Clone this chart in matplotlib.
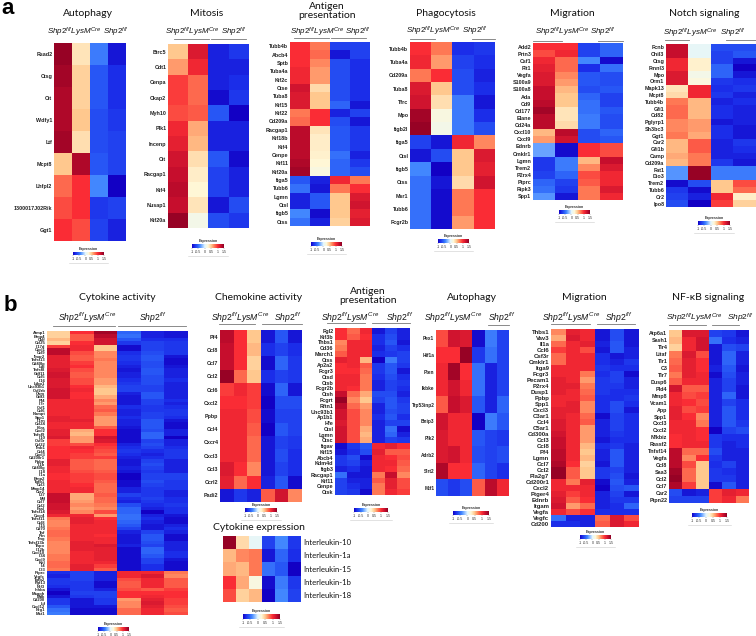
import numpy as np
import matplotlib
matplotlib.use('Agg')
import matplotlib.pyplot as plt
from matplotlib.colors import LinearSegmentedColormap, Normalize
from matplotlib.cm import ScalarMappable

plt.rcParams['font.family'] = ['Liberation Sans', 'DejaVu Sans']
plt.rcParams['mathtext.fontset'] = 'custom'
plt.rcParams['mathtext.it'] = 'Liberation Sans:italic'
plt.rcParams['mathtext.rm'] = 'Liberation Sans'

W, H = 756, 636

# ---------- data ----------
a_auto_genes = ['Rsad2','Ctsg','Cit','Wdfy1','Ltf','Mcpt8','Lhfpl2','1300017J02Rik','Ggt1']
a_auto = [[1.45,.35,-.45,-.9],[1.4,.45,-.6,-.8],[1.35,.45,-.6,-.8],[1.35,.5,-.65,-.75],[1.4,.38,-.65,-.7],
          [.5,1.35,-.6,-.7],[.8,1.0,-.4,-1],[.9,1.0,-.75,-.7],[1.0,.9,-.7,-.85]]

a_mito_genes = ['Birc5','Cdt1','Cenpa','Ckap2','Myh10','Plk1','Incenp','Cit','Racgap1','Kif4','Nusap1','Kif20a']
a_mito = [[.5,1.15,-.85,-.75],[.65,1.05,-.85,-.85],[.95,.8,-.85,-.8],[.95,.8,-.95,-.75],[.9,.85,-.6,-1.0],
          [1.05,.6,-.85,-.85],[1.1,.55,-.85,-.85],[1.2,.38,-.6,-.95],[1.25,.3,-.7,-.85],[1.3,.25,-.7,-.85],
          [1.25,.35,-.9,-.65],[1.45,.15,-.65,-.75]]

a_anti_genes = ['Tubb4b','Abcb4','Sptb','Tuba4a','Kif2c','Ctse','Tuba8','Kif15','Kif22','Cd209a','Racgap1','Kif18b',
                'Kif4','Cenpe','Kif11','Kif20a','Itga5','Tubb6','Lgmn','Ctsl','Itgb5','Ctss']
a_anti = [[1.0,.75,-.7,-.7],[1.0,.8,-.9,-.7],[1.0,.7,-.65,-.8],[1.05,.65,-.65,-.8],[1.05,.65,-.65,-.8],
          [1.2,.4,-.65,-.8],[1.15,.5,-.65,-.8],[1.15,.5,-.55,-.9],[.75,1.0,-.85,-.7],[.8,1.0,-.65,-.9],
          [1.3,.35,-.6,-.75],[1.3,.3,-.6,-.75],[1.3,.3,-.6,-.75],[1.3,.28,-.5,-.85],[1.35,.25,-.55,-.75],
          [1.4,.2,-.55,-.65],[-.6,-.85,1.05,.75],[-.5,-.9,.75,1.0],[-.85,-.6,.5,1.15],[-.85,-.6,.5,1.2],
          [-.4,-.95,.5,1.1],[-.5,-.85,.45,1.15]]

a_phago_genes = ['Tubb4b','Tuba4a','Cd209a','Tuba8','Tfrc','Mpo','Itgb2l','Itga5','Ctsl','Itgb5','Ctss','Msr1','Tubb6','Fcgr2b']
a_phago = [[1.0,.75,-.8,-.75],[1.05,.65,-.7,-.8],[.75,1.0,-.65,-.85],[1.15,.5,-.65,-.8],[1.2,.38,-.45,-.9],
           [1.4,.2,-.45,-.8],[1.45,.15,-.45,-.65],[-.7,-.9,1.05,.7],[-.9,-.65,.5,1.15],[-.4,-1,.5,1.1],
           [-.5,-.9,.4,1.2],[-.5,-.95,.75,1.0],[-.5,-.95,.75,1.0],[-.5,-.95,.65,1.0]]

a_migr_genes = ['Add2','Prtn3','Csf1','Flt1','Vegfa','S100a9','S100a8','Ada','Cd9','Cd177','Elane','Cd24a','Cxcl10','Cxcl9',
                'Ednrb','Cmklr1','Lgmn','Trem2','P2rx4','Ptprc','Ripk3','Spp1']
a_migr = [[1.0,1.0,-.7,-.55],[.9,1.05,-.7,-.55],[1.05,.8,-.4,-.95],[1.1,.8,-.8,-.5],[1.15,.7,-.6,-.65],
          [1.15,.65,-.6,-.65],[1.25,.55,-.65,-.6],[1.25,.5,-.55,-.7],[1.3,.5,-.5,-.7],[1.4,.35,-.5,-.6],
          [1.3,.35,-.45,-.65],[1.3,.4,-.45,-.65],[.55,1.3,-.65,-.55],[.65,1.2,-.65,-.6],[-.3,-.95,1.0,.9],
          [-.3,-.95,1.0,.9],[-.75,-.45,.55,1.25],[-.75,-.45,.7,1.15],[-.7,-.55,.9,1.05],[-.55,-.7,.85,1.05],
          [-.5,-.75,.75,1.15],[-.35,-.9,.75,1.05]]

a_notch_genes = ['Fcnb','Chil3','Ctsg','Fmnl3','Mpo','Orm1','Mapk13','Mcpt8','Tubb4b','Gfi1','Cd82','Pglyrp1','Sh3bc3','Ggt1',
                 'Car2','Gfi1b','Camp','Cd209a','Fat1','Dio3','Trem2','Tubb6','Cr2','Ipo8']
a_notch = [[1.25,.05,-.65,-.65],[1.25,.05,-.7,-.6],[1.05,.28,-.7,-.9],[1.05,.28,-.55,-1.0],[1.15,.15,-.55,-.9],
           [1.15,.22,-.75,-.8],[.35,1.05,-.8,-.75],[.4,1.05,-.75,-.85],[.75,.55,-.85,-.8],[.8,.55,-.8,-.85],
           [.8,.55,-.8,-.85],[.7,.65,-.9,-.85],[.7,.65,-.8,-.9],[.75,.6,-.8,-.9],[.55,.85,-.85,-.75],
           [.55,.85,-.85,-.8],[.6,.75,-.85,-.85],[.55,.75,-.75,-.9],[-.35,1.45,-.45,-.45],[-.35,1.45,-.45,-.45],
           [-.95,-.65,.5,.9],[-.75,-.95,.5,.8],[-.7,-.85,1.05,.3],[-.65,-1,.95,.45]]

b_cyto_genes = ['Aimp1','Bmp4','Cklf','Ccl25','Il17d','Cxcl1','Ccl9','Ifnar2','Tnfsf13','Cd40lg','Ltb','Tnfsf8','Gdf11','Ccl5',
                'Il16','Ltbp1','Unc93b1','Csf2rb','Osm','Gdf3','Pf4','Il7r','Csf1','Ccl6','Nampt','Spp1','Il1rn','Ccl24','Il6ra',
                'Cxcl2','Tnfsf9','Il10','Csf3r','Ccl22','Ifnb1','Ccl4','Cxcl3','Cd200r1','Ppbp','Il1b','Cd40lg','Il18','Il1a',
                'Bmp2','Tgfb1','Ccl3','Mmp14','Ccr2','Il27','Mif','Ccl7','Ccl2','Fasl','Tnfsf14','Cxcr4','Tnfsf11','Ccl8',
                'Il15','Cd70','Tnf','Ptn','Ifng','Tnfsf13b','Thpo','Il12b','Cxcl10','Il34','Cxcl9','Kitl','Il4','Il33',
                'Ptprc','Vegfc','Tgfb2','Fgf13','Ntf3','Inhba','Magoh','Mdk','Cd200','Lif','Cxcl12','Nrg1','Mst1']
b_cyto = [[.45,1.0,1.4,-.55,-.85,-.9],[.45,.85,1.3,-.5,-.85,-.9],[.55,.85,1.2,-.6,-.8,-.8],[.45,1.0,1.2,-.75,-.7,-.75],
          [.95,1.05,.5,-.95,-.7,-.75],[1.3,1.05,.5,-.95,-.7,-.75],[1.3,.9,.7,-.8,-.65,-.75],[1.1,.85,.7,-.75,-.6,-.9],
          [1.1,.85,.75,-.75,-.6,-.95],[1.1,.95,.7,-.8,-.65,-.95],[1.1,1.0,.7,-.85,-.65,-.9],[1.15,.9,.7,-.9,-.6,-.85],
          [1.2,.85,.7,-.85,-.6,-.85],[1.2,.85,.7,-.85,-.65,-.85],[1.15,.9,.65,-.8,-.65,-.8],[1.15,.9,.65,-.75,-.65,-.85],
          [1.15,1.0,.55,-.7,-.7,-.85],[1.2,1.05,.5,-.7,-.7,-.85],[1.2,1.0,.5,-.85,-.6,-.85],[1.2,1.0,.6,-.9,-.6,-.85],
          [1.05,1.05,.7,-.9,-.7,-.8],[1.05,1.05,.65,-.9,-.7,-.85],[1.05,1.05,.8,-.8,-.75,-.8],[1.05,1.05,.85,-.85,-.75,-.75],
          [1.05,1.05,.75,-.85,-.7,-.75],[1.1,1.05,.65,-.8,-.7,-.8],[1.1,1.1,.65,-.85,-.6,-.9],[1.05,1.05,.65,-.85,-.6,-.95],
          [1.05,1.05,.85,-.9,-.6,-.95],[1.1,.6,1.0,-.95,-.65,-.85],[1.1,.55,1.0,-.95,-.55,-.85],[1.15,.65,1.2,-.95,-.55,-1.0],
          [.95,.65,1.15,-.95,-.7,-.85],[.95,.9,1.0,-.85,-.65,-.85],[1.0,1.05,.95,-.8,-.7,-.8],[1.0,1.0,.9,-.75,-.8,-.75],
          [1.0,.95,.85,-.8,-.85,-.75],[1.0,.95,.95,-.85,-.8,-.75],[1.1,.85,.8,-.9,-.7,-.85],[1.1,.85,.8,-.9,-.65,-.85],
          [1.05,.85,.8,-.85,-.7,-.85],[1.05,.9,.85,-.9,-.75,-.85],[1.0,.95,.9,-1.0,-.7,-.7],[1.0,.95,.9,-1.0,-.7,-.7],
          [1.05,.95,.85,-.95,-.65,-.75],[1.05,1.0,.8,-.95,-.7,-.75],[1.05,1.05,.8,-.85,-.75,-.75],[1.05,1.05,.8,-.85,-.75,-.85],
          [1.25,.6,.85,-.7,-.75,-.85],[1.25,.6,.8,-.8,-.7,-.8],[1.25,.65,.8,-.85,-.75,-.8],[1.2,.7,.75,-.65,-.8,-.75],
          [1.2,.65,.7,-.55,-.85,-.8],[1.15,.7,.9,-.55,-1.0,-.8],[1.05,1.05,.65,-.5,-.85,-.9],[.75,1.1,1.0,-.5,-.8,-.95],
          [.7,1.1,1.05,-.55,-.85,-.95],[.7,1.05,1.05,-.6,-.9,-.85],[.75,1.05,1.05,-.7,-.9,-.8],[.8,1.05,1.05,-.85,-.7,-.85],
          [.8,1.05,1.0,-.9,-.6,-.95],[.75,1.05,1.05,-.9,-.6,-.95],[.7,1.1,1.05,-.9,-.65,-.85],[.7,1.1,1.15,-.85,-.7,-.85],
          [.7,1.1,1.1,-.95,-.55,-.85],[.7,1.05,1.1,-.95,-.55,-.8],[.75,1.05,1.1,-.95,-.6,-.8],[.75,1.05,1.1,-.95,-.7,-.9],
          [.8,1.05,1.05,-.95,-.7,-.95],[.8,1.1,.95,-.95,-.8,-.95],[.75,1.1,.85,-.95,-.8,-.95],
          [-.8,-.7,-.85,1.05,1.05,.75],[-.85,-.7,-.85,1.05,1.15,.7],[-.75,-.7,-.85,.9,1.05,.85],[-.75,-.75,-.95,.85,1.05,.85],
          [-.8,-.75,-.95,.85,1.05,.85],[-.9,-.75,-.85,.9,.85,.95],[-1.0,-.7,-.7,1.0,1.0,1.0],[-.9,-.75,-.7,1.0,1.05,1.0],
          [-.75,-.9,-.75,.65,1.1,.95],[-.75,-.9,-.75,.7,1.15,.95],[-.6,-.9,-.9,.7,1.1,.9],[-.5,-.95,-.95,.8,1.05,.85],[-.45,-.95,-.95,.8,1.05,.9]]

b_chem_genes = ['Pf4','Ccl8','Ccl7','Ccl2','Ccl6','Cxcl2','Ppbp','Ccl4','Cxcr4','Cxcl3','Ccl3','Ccrl2','Padi2']
b_chem = [[1.3,1.0,.5,-.9,-.6,-.9],[1.25,1.0,.55,-.8,-.7,-.8],[1.25,1.0,.45,-.95,-.55,-.75],[1.45,.8,.5,-.8,-.7,-.75],
          [.95,1.05,.95,-.95,-.55,-.9],[1.0,1.0,.95,-1,-.65,-.65],[1.05,1.05,.9,-.95,-.7,-.7],[1.05,1.05,.85,-1,-.6,-.7],
          [1.05,1.05,.8,-.9,-.7,-.75],[1.05,1.05,.8,-.9,-.65,-.8],[1.15,1.0,.7,-.9,-.7,-.8],[1.1,.8,1.0,-.85,-.6,-.95],
          [-.9,-.75,-.85,.85,1.2,.7]]

b_anti_genes = ['Fgl2','Kif3b','Thbs1','Cd36','March1','Ctss','Ap2a2','Fcgr3','Ctsd','Ctsb','Fcgr2b','Ctsh','Fcgrt','Rftn1',
                'Unc93b1','Ap1b1','Hfe','Ctsl','Lgmn','Ctsc','Itgav','Kif15','Abcb4','Kdm4d','Itgb3','Racgap1','Kif11','Cenpe','Ctsk']
b_anti = [[1.0,.8,1.05,-.9,-.7,-.85],[1.0,.85,1.0,-.8,-.65,-.85],[.7,1.05,1.05,-.8,-.6,-.9],[.75,1.05,1.05,-.85,-.7,-.8],
          [.85,1.05,1.05,-.8,-.75,-.7],[1.1,1.05,.55,-1,-.45,-.7],[1.0,1.05,.85,-.75,-.6,-.75],[1.0,1.0,.8,-.75,-.6,-.9],
          [1.05,1.05,.75,-.8,-.65,-.8],[1.05,1.05,.75,-.85,-.7,-.75],[1.05,1.0,.75,-.85,-.7,-.8],[1.25,.8,.6,-.65,-.65,-.85],
          [1.45,.7,.5,-.7,-.6,-.75],[1.3,.8,.65,-.85,-.6,-.7],[1.2,.9,.7,-.85,-.65,-.7],[1.2,.9,.7,-.8,-.6,-.8],
          [1.15,.9,.7,-.85,-.7,-.7],[1.2,.9,.6,-.85,-.5,-.95],[1.2,.9,.55,-.85,-.55,-.85],[1.2,.9,.6,-.85,-.7,-.75],
          [-.95,-.75,-.6,1.05,1.1,1.0],[-.9,-.8,-.65,1.1,.85,.85],[-.75,-.65,-.95,1.05,1.0,.9],[-.75,-.7,-.85,1.05,1.05,.85],
          [-.85,-.8,-.9,1.05,1.0,.8],[-.5,-.9,-.9,.75,1.25,.7],[-.7,-.85,-.85,.85,1.1,.9],[-.7,-.8,-.85,.75,1.1,.9],
          [-.7,-.75,-.95,.75,1.05,.95]]

b_auto_genes = ['Pex1','Hif1a','Pten','Ikbke','Trp53inp2','Bnip3','Plk2','Adrb2','Sirt2','Mtf1']
b_auto = [[.9,1.2,1.15,-.95,-.45,-.7],[1.0,1.0,1.45,-.75,-.5,-.7],[1.05,1.4,1.0,-.5,-.85,-.7],[1.05,1.2,1.05,-.5,-.85,-.7],
          [.85,1.25,1.15,-.6,-.85,-.55],[1.2,1.05,1.05,-1,-.45,-.6],[1.15,1.05,1.05,-.6,-.7,-.75],[1.15,1.2,1.05,-.65,-.7,-.65],
          [1.35,1.0,1.0,-.55,-.7,-.8],[-.65,-.75,-.65,.85,1.3,1.05]]

b_migr_genes = ['Thbs1','Vav3','Il1a','Ccl6','Csf3r','Cmklr1','Itga9','Fcgr3','Pecam1','P2rx4','Dusp1','Ppbp','Spp1','Cxcl3',
                'C3ar1','Ccl4','C5ar1','Cd300a','Ccl3','Ccl8','Pf4','Lgmn','Ccl7','Ccl2','Pla2g7','Cd200r1','Cxcl2','Ptger4',
                'Ednrb','Itgam','Vegfa','Vegfc','Cd200']
b_migr = [[.7,1.1,1.05,-.9,-.65,-.9],[.6,1.15,1.05,-.9,-.65,-.9],[.8,1.05,1.1,-.85,-.6,-.9],[.95,1.05,.9,-.9,-.6,-.85],
          [.8,1.05,1.05,-.8,-.9,-.85],[.8,1.05,1.05,-.8,-.85,-.75],[1.05,1.05,1.05,-.75,-.8,-.8],[1.05,1.05,.75,-.8,-.7,-.95],
          [1.1,1.05,.65,-.75,-.7,-.85],[1.1,1.1,.75,-.75,-.75,-.85],[1.1,1.05,.8,-.75,-.8,-.8],[1.05,1.05,.85,-.8,-.8,-.75],
          [1.05,1.1,.7,-.8,-.65,-.8],[1.1,1.1,.7,-.8,-.65,-.9],[1.1,1.05,.8,-.95,-.7,-.8],[1.15,1.05,.85,-.85,-.7,-.8],
          [1.15,1.05,.65,-.85,-.7,-.8],[1.2,1.05,.65,-.85,-.75,-.8],[1.25,1.05,.65,-.9,-.8,-.8],[1.25,1.05,.55,-.8,-.75,-.85],
          [1.3,1.05,.5,-.85,-.6,-.85],[1.3,1.05,.55,-.85,-.6,-.85],[1.35,1.0,.45,-.9,-.6,-.85],[1.45,.85,.5,-.75,-.7,-.85],
          [1.45,.85,.5,-.75,-.65,-.9],[1.05,.75,1.1,-.95,-.6,-.85],[1.05,1.05,1.05,-1,-.65,-.6],[1.1,.95,1.05,-.85,-.7,-.9],
          [1.15,.85,1.0,-.85,-.75,-.75],[1.2,.65,.8,-.85,-.8,-.55],[1.05,.9,1.0,-.8,-.8,-.8],[-.5,-.85,-.85,.8,1.15,.9],
          [-.8,-.8,-.85,.85,1.15,1.05]]

b_nfkb_genes = ['Atp6a1','Sash1','Tlr4','Litaf','Tlr1','C3','Tlr7','Dusp6','Pld4','Mmp8','Vcam1','App','Spp1','Cxcl3','Cxcl2',
                'Nfkbiz','Rassf2','Tnfsf14','Vegfa','Ccl8','Saa3','Ccl2','Ccl7','Car2','Ptpn22']
b_nfkb = [[.5,1.15,1.15,-.7,-.75,-.9],[.55,1.05,1.2,-.5,-.8,-.85],[.45,1.05,1.2,-.9,-.65,-.7],[.75,1.15,.9,-.9,-.55,-.85],
          [.8,1.1,1.0,-.9,-.55,-.85],[.85,1.1,1.0,-.85,-.6,-.9],[.75,1.1,1.05,-.95,-.65,-.85],[.85,1.05,1.05,-.85,-.7,-.85],
          [1.2,.85,.85,-.85,-.7,-.9],[1.05,.9,.95,-.85,-.55,-.9],[1.05,1.0,.9,-.85,-.7,-.8],[1.1,.9,.95,-.85,-.6,-.8],
          [1.1,1.0,.7,-.85,-.6,-.8],[1.05,1.05,.75,-.85,-.6,-.75],[1.05,1.05,1.0,-1,-.7,-.65],[1.0,1.05,1.0,-.75,-.8,-.8],
          [1.0,1.05,1.05,-.75,-.85,-.8],[1.3,.8,.8,-.65,-.85,-.85],[1.3,.7,1.0,-.75,-.85,-.85],[1.3,.9,.5,-.8,-.7,-.85],
          [1.4,.8,.5,-.75,-.8,-.85],[1.45,.8,.5,-.75,-.75,-.85],[1.35,.95,.5,-.95,-.6,-.85],[-.65,-.9,-.85,.95,1.1,1.05],
          [-.7,-.7,-.7,.95,1.05,.75]]

cyto_expr_genes = ['Interleukin-10','Interleukin-1a','Interleukin-15','Interleukin-1b','Interleukin-18']
cyto_expr = [[1.45,.4,.05,-.7,-.4,-.75],[.55,.7,.75,-.9,-.55,-.8],[.6,.55,.75,-.5,-.6,-1],
             [1.0,.6,.2,-.95,-.45,-.75],[.9,.45,.55,-1,-.4,-.7]]

scale_ticks = [-1, -.5, 0, .5, 1, 1.5]
scale_labels = ['-1', '-0.5', '0', '0.5', '1', '1.5']

# ---------- style ----------
cmap = LinearSegmentedColormap.from_list('expr', [
    (0.00, '#1200c4'), (0.08, '#1c2eea'), (0.16, '#2858f6'), (0.24, '#4388ff'), (0.40, '#e2f6ff'),
    (0.50, '#fff8d8'), (0.60, '#ffc88e'), (0.70, '#ff7a55'), (0.80, '#fa2d35'), (0.90, '#c80f2e'), (1.00, '#8c0024')])
norm = Normalize(-1, 1.5)

LEFT = r'$\mathit{Shp2}^{\mathit{f/f}}\mathit{LysM}^{\mathit{Cre}}$'
RIGHT = r'$\mathit{Shp2}^{\mathit{f/f}}$'
TITLE_FONT = ['Lato', 'DejaVu Sans']

fig = plt.figure(figsize=(W/100, H/100), dpi=100)

def px_axes(x0, y0, x1, y1):
    return fig.add_axes([x0/W, 1-y1/H, (x1-x0)/W, (y1-y0)/H])

def ftext(x, y, s, **kw):
    return fig.text(x/W, 1-y/H, s, **kw)

def hline(x0, x1, y, color='#777777', lw=0.6):
    fig.add_artist(plt.Line2D([x0/W, x1/W], [1-y/H, 1-y/H], color=color, lw=lw))

def legend(x0, x1, y0, y1):
    cax = px_axes(x0, y0, x1, y1)
    cb = fig.colorbar(ScalarMappable(norm=norm, cmap=cmap), cax=cax, orientation='horizontal')
    cb.set_ticks(scale_ticks, labels=scale_labels)
    cb.ax.tick_params(labelsize=2.6, length=1, width=0.2, pad=0.6, colors='#333333')
    cb.outline.set_visible(False)
    ftext((x0+x1)/2, y0-1.2, 'Expression', fontsize=2.6, ha='center', va='bottom', fontweight='bold', color='#333333')
    hline(x0-4, x1+4, y1+8, color='#cccccc', lw=0.4)

def panel(values, genes, box, title, tx, ty, ly, lc, rc, lines, leg, gsize=3.9, tsize=7.5, lsize=5.8):
    ax = px_axes(*box)
    ax.imshow(np.array(values), cmap=cmap, norm=norm, aspect='auto', interpolation='nearest')
    ax.set_xticks([])
    ax.set_yticks(range(len(genes)), genes, fontsize=gsize, fontweight='bold', color='#222222')
    ax.tick_params(axis='y', length=0, pad=1.2)
    for s in ax.spines.values():
        s.set_visible(False)
    ftext(tx, ty, title, fontsize=tsize, family=TITLE_FONT, ha='center', va='center', linespacing=1.0, color='#111111')
    if lc is not None:
        ftext(lc, ly, LEFT, fontsize=lsize, ha='center', va='center', color='#111111')
        ftext(rc, ly, RIGHT, fontsize=lsize, ha='center', va='center', color='#111111')
    for x0, x1, y in lines:
        hline(x0, x1, y)
    legend(*leg)

ftext(1, 14, 'a', fontsize=16, fontweight='bold', ha='left', va='baseline', color='black')
ftext(4, 311, 'b', fontsize=16, fontweight='bold', ha='left', va='baseline', color='black')

panel(a_auto, a_auto_genes, (54, 43, 126, 241), 'Autophagy', 88, 14, 32, 74, 116, [], (73, 104, 252, 255))
panel(a_mito, a_mito_genes, (168, 44, 249, 228), 'Mitosis', 207, 14, 32, 192, 234,
      [(174, 209, 39), (211, 246, 39)], (192, 224, 244, 248))
panel(a_anti, a_anti_genes, (290, 42, 370, 226), 'Antigen\npresentation', 327, 11, 32, 317, 358,
      [(294, 329, 38), (331, 366, 38)], (311, 342, 242, 246))
panel(a_phago, a_phago_genes, (410, 42, 494, 229), 'Phagocytosis', 446, 14, 31, 433, 475,
      [(410, 435, 39), (472, 495, 39)], (438, 469, 239, 243))
panel(a_migr, a_migr_genes, (533, 43, 623, 200), 'Migration', 572, 14, 32, 562, 603,
      [(533, 562, 41), (598, 623, 41)], (559, 590, 210, 214))
panel(a_notch, a_notch_genes, (666, 44, 756, 207), 'Notch signaling', 704, 14, 33, 690, 733,
      [(665, 689, 40), (726, 756, 40)], (698, 730, 221, 225))

panel(b_cyto, b_cyto_genes, (47, 331, 188, 615), 'Cytokine activity', 117, 298, 318, 87, 153,
      [(53, 115, 326), (118, 186, 326)], (98, 129, 627, 631), gsize=3.0, lsize=6.2)
panel(b_chem, b_chem_genes, (220, 330, 302, 502), 'Chemokine activity', 259, 298, 318, 240, 288,
      [(219, 255, 324), (262, 302, 324)], (245, 277, 508, 512), lsize=6.2)
panel(b_anti, b_anti_genes, (335, 328, 410, 495), 'Antigen\npresentation', 368, 296, 318, 350, 400,
      [(327, 365, 323), (372, 410, 323)], (354, 388, 508, 512), lsize=6.2)
panel(b_auto, b_auto_genes, (436, 330, 509, 496), 'Autophagy', 472, 298, 318, 453, 502,
      [(488, 509, 325)], (453, 489, 511, 515), gsize=3.4, lsize=6.2)
panel(b_migr, b_migr_genes, (551, 329, 639, 527), 'Migration', 584, 298, 318, 571, 619,
      [(551, 590, 324), (597, 635, 324)], (580, 611, 535, 539), gsize=4.3, lsize=6.2)
panel(b_nfkb, b_nfkb_genes, (669, 330, 749, 503), 'NF-κB signaling', 708, 298, 318, 694, 741,
      [(669, 706, 325), (712, 739, 325)], (692, 727, 513, 517), lsize=6.0)

# Cytokine expression: labels on the right, in a plain face
panel(cyto_expr, [''] * 5, (223, 536, 301, 602), 'Cytokine expression', 259, 528, None, None, None, [], (243, 280, 614, 619))
rows = np.linspace(536, 602, len(cyto_expr_genes) * 2 + 1)[1::2]
for name, yy in zip(cyto_expr_genes, rows):
    ftext(303, yy, name, fontsize=5.6, family=TITLE_FONT, ha='left', va='center', color='#111111')

fig.savefig('out.png', dpi=100)
